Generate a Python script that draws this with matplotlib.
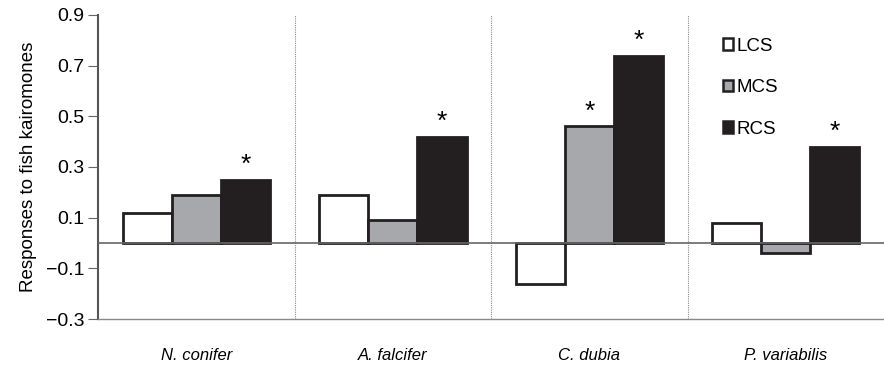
import matplotlib
matplotlib.use("Agg")
import matplotlib.pyplot as plt
import numpy as np

plt.rcParams["font.family"] = ["Liberation Sans", "DejaVu Sans"]

species = ["N. conifer", "A. falcifer", "C. dubia", "P. variabilis"]
series = ["LCS", "MCS", "RCS"]
lcs = [0.12, 0.19, -0.16, 0.08]
mcs = [0.19, 0.09, 0.46, -0.04]
rcs = [0.25, 0.42, 0.74, 0.38]
# significance marks per species
stars_mcs = [False, False, True, False]
stars_rcs = [True, True, True, True]
yticks = [-0.3, -0.1, 0.1, 0.3, 0.5, 0.7, 0.9]

colors = ["white", "#a7a8ab", "#231f20"]
x = np.arange(len(species))
w = 0.25

fig = plt.figure(figsize=(8.84, 3.65), dpi=100)
ax = fig.add_axes([0.111, 0.126, 0.889, 0.833])

for i, (vals, c, lab) in enumerate(zip([lcs, mcs, rcs], colors, series)):
    ax.bar(x + (i - 1) * w, vals, width=w, color=c, edgecolor="#231f20",
           linewidth=2, label=lab, zorder=3)

for xi, v, s in zip(x, mcs, stars_mcs):
    if s:
        ax.text(xi, v + 0.012, "*", ha="center", va="bottom", fontsize=19)
for xi, v, s in zip(x, rcs, stars_rcs):
    if s:
        ax.text(xi + w, v + 0.012, "*", ha="center", va="bottom", fontsize=19)

for sep in [0.5, 1.5, 2.5]:
    ax.axvline(sep, color="#888888", linestyle=(0, (1, 1)), linewidth=0.8, zorder=1)
ax.axhline(0, color="#666666", linewidth=1.2, zorder=4)

ax.set_xlim(-0.5, 3.5)
ax.set_ylim(-0.3, 0.9)
ax.set_yticks(yticks)
ax.set_yticklabels(["\u22120.3", "\u22120.1", "0.1", "0.3", "0.5", "0.7", "0.9"])
ax.set_xticks(x)
ax.set_xticklabels(species, style="italic", fontsize=12)
ax.tick_params(axis="x", length=0, pad=21)
ax.tick_params(axis="y", length=7, width=0.8, color="#666666", labelsize=14, pad=3)
ax.set_ylabel("Responses to fish kairomones", fontsize=13.5, labelpad=6)

ax.spines["top"].set_visible(False)
ax.spines["right"].set_visible(False)
ax.spines["left"].set_color("#555555")
ax.spines["left"].set_linewidth(1.5)
ax.spines["bottom"].set_color("#888888")
ax.spines["bottom"].set_linewidth(1)

leg = ax.legend(loc="upper left", bbox_to_anchor=(0.795, 0.925), frameon=False,
                fontsize=13.5, handlelength=0.55, handleheight=0.55,
                handletextpad=0.15, labelspacing=1.3, borderpad=0, borderaxespad=0)
for h in leg.legend_handles:
    h.set_linewidth(1.8)

fig.savefig("out.png", dpi=100)
